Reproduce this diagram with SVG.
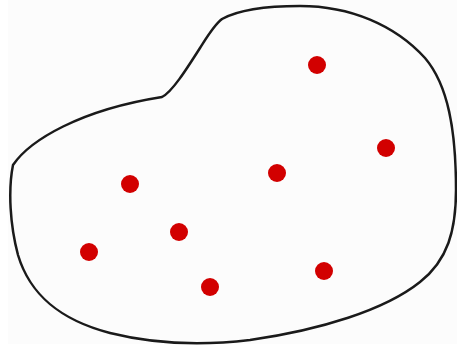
<svg xmlns="http://www.w3.org/2000/svg" width="457" height="347" viewBox="0 0 457 347">
<style>
.blob{fill:#fcfcfc;stroke:#1a1a1a;stroke-width:2.5;stroke-linejoin:round}
.dot{fill:#d20000}
</style>
<rect width="457" height="347" fill="#ffffff"/>
<rect x="8" y="0" width="449" height="344" fill="#fcfcfc"/>
<g id="region">
<path class="blob" d="M 222,19 C 240,9 270,6 300,6 C 350,6 395,25 425,58 C 448,85 456,130 456,190 C 456,230 448,260 420,282 C 385,310 320,330 250,340 C 200,346 150,343 110,333 C 60,320 30,295 18,255 C 10,225 8,190 13,165 C 30,140 80,110 162,97 C 172,92 186,70 200,48 C 207,37 214,25 222,19 Z"/>
</g>
<g id="points">
<circle id="p1" class="dot" cx="317" cy="65" r="9"/>
<circle id="p2" class="dot" cx="386" cy="148" r="9"/>
<circle id="p3" class="dot" cx="277" cy="173" r="9"/>
<circle id="p4" class="dot" cx="130" cy="184" r="9"/>
<circle id="p5" class="dot" cx="179" cy="232" r="9"/>
<circle id="p6" class="dot" cx="89" cy="252" r="9"/>
<circle id="p7" class="dot" cx="210" cy="287" r="9"/>
<circle id="p8" class="dot" cx="324" cy="271" r="9"/>
</g>
</svg>
